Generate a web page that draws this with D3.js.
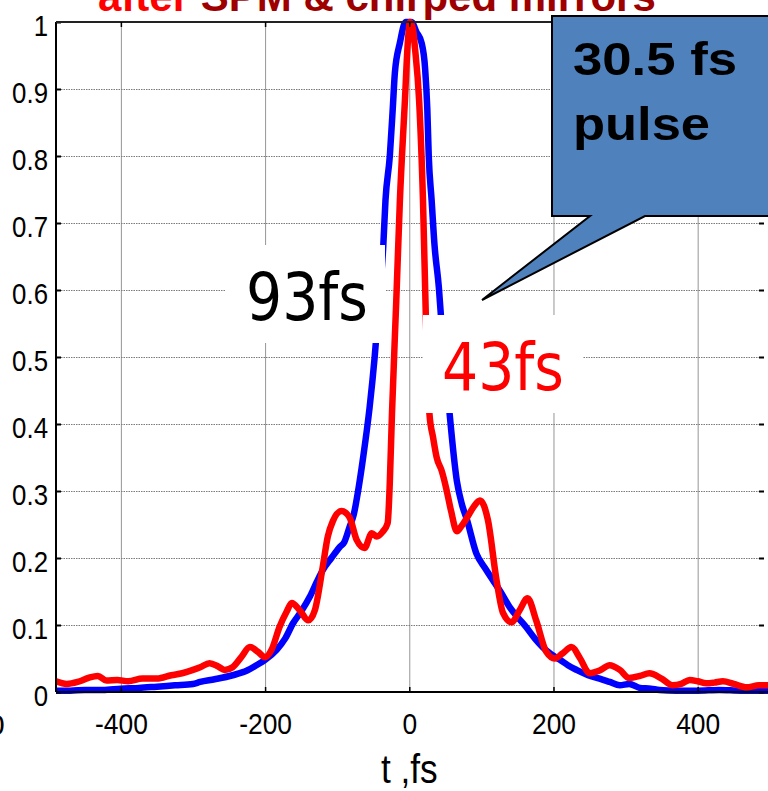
<!DOCTYPE html>
<html><head><meta charset="utf-8">
<script src="https://cdn.jsdelivr.net/npm/d3@7"></script>
<style>
html,body{margin:0;padding:0;background:#fff;}
svg{display:block;}
</style></head>
<body>
<svg id="chart" width="768" height="791"></svg>
<script>
// ---- data ----
const xTicks = [-400, -200, 0, 200, 400];
const yTicks = [0, 0.1, 0.2, 0.3, 0.4, 0.5, 0.6, 0.7, 0.8, 0.9, 1];
const yTickLabels = ["0", "0.1", "0.2", "0.3", "0.4", "0.5", "0.6", "0.7", "0.8", "0.9", "1"];
const xTickLabels = ["-400", "-200", "0", "200", "400"];

const blueT = [-490, -470, -450, -425, -400, -375, -350, -325, -300, -290, -270, -245, -225, -212, -200, -184, -172, -161, -150, -138, -128, -120, -108, -96, -90, -83, -77, -71, -64, -55, -48, -42, -36, -33, -27, -23, -20, -13, -5, 3, 10, 17, 22, 25, 27, 31, 35, 41, 44, 50, 56, 66, 73, 80, 93, 105, 116, 128, 139, 150, 162, 174, 185, 197, 209, 220, 232, 248, 264, 278, 292, 305, 320, 335, 347, 370, 400, 430, 460, 498];
const blueV = [0.002, 0.002, 0.003, 0.003, 0.005, 0.006, 0.008, 0.01, 0.012, 0.015, 0.019, 0.025, 0.032, 0.04, 0.048, 0.063, 0.08, 0.103, 0.12, 0.142, 0.165, 0.182, 0.2, 0.217, 0.224, 0.246, 0.265, 0.3, 0.35, 0.425, 0.5, 0.58, 0.667, 0.734, 0.8, 0.869, 0.924, 0.969, 1.0, 1.0, 0.985, 0.969, 0.93, 0.87, 0.8, 0.734, 0.667, 0.604, 0.56, 0.49, 0.415, 0.315, 0.28, 0.257, 0.207, 0.185, 0.167, 0.147, 0.127, 0.112, 0.097, 0.08, 0.067, 0.056, 0.048, 0.04, 0.033, 0.025, 0.02, 0.015, 0.01, 0.012, 0.006, 0.005, 0.003, 0.002, 0.002, 0.003, 0.002, 0.002];

const redT = [-490, -475, -460, -445, -432, -420, -405, -390, -370, -350, -330, -315, -300, -290, -277, -265, -256, -245, -233, -221, -210, -200, -191, -180, -170, -163, -152, -140, -131, -120, -113, -106, -94, -83, -73, -62, -52, -45, -37, -30, -27, -24, -18, -13, -6, -2, 1, 5, 8, 13.6, 19, 23, 28, 33, 38, 45, 51, 58, 66, 72, 80, 89, 98, 109, 121, 130, 142, 153, 164, 176, 190, 202, 212, 225, 237, 250, 264, 278, 292, 305, 320, 333, 350, 365, 377, 389, 400, 412, 423, 435, 450, 468, 485, 498];
const redV = [0.016, 0.012, 0.015, 0.021, 0.024, 0.017, 0.018, 0.016, 0.02, 0.02, 0.025, 0.028, 0.033, 0.037, 0.043, 0.038, 0.033, 0.037, 0.052, 0.067, 0.06, 0.052, 0.063, 0.097, 0.12, 0.133, 0.122, 0.107, 0.122, 0.187, 0.232, 0.255, 0.27, 0.261, 0.227, 0.215, 0.237, 0.232, 0.239, 0.252, 0.313, 0.415, 0.585, 0.734, 0.884, 0.97, 1.0, 0.99, 0.96, 0.884, 0.734, 0.56, 0.415, 0.38, 0.35, 0.33, 0.305, 0.27, 0.24, 0.247, 0.26, 0.276, 0.286, 0.257, 0.167, 0.118, 0.104, 0.122, 0.14, 0.107, 0.06, 0.05, 0.057, 0.067, 0.05, 0.028, 0.032, 0.04, 0.033, 0.021, 0.024, 0.028, 0.02, 0.01, 0.012, 0.018, 0.016, 0.013, 0.014, 0.016, 0.012, 0.007, 0.01, 0.01];

const titleParts = ["after", " SPM & chirped mirrors"];
const labelBlue = "93fs";
const labelRed = "43fs";
const calloutLines = ["30.5 fs", "pulse"];
const xAxisTitle = "t ,fs";

// ---- layout ----
const svg = d3.select("#chart");
const L = 56, R = 764, T = 22, B = 692;
const x = d3.scaleLinear().domain([-490, 492]).range([L, R]);
const y = d3.scaleLinear().domain([0, 1]).range([B, T]);
const sans = "'Liberation Sans', Arial, sans-serif";

// condense text horizontally (reference uses a narrow face)
function condense(sel, k) {
  sel.each(function () {
    const w = this.getComputedTextLength();
    d3.select(this).attr("textLength", w * k).attr("lengthAdjust", "spacingAndGlyphs");
  });
}

// title (cropped at top, as in the reference)
const title = svg.append("text").attr("x", 98).attr("y", 11)
  .attr("font-family", sans).attr("font-weight", "bold").attr("font-size", 42);
title.append("tspan").attr("fill", "#ff0000").text(titleParts[0]);
title.append("tspan").attr("fill", "#9e0000").text(titleParts[1]);

// grid
const gx = svg.append("g").attr("transform", `translate(0,${B})`)
  .call(d3.axisBottom(x).tickValues(xTicks).tickSize(-(B - T)).tickFormat(""));
gx.select(".domain").remove();
gx.selectAll("line").attr("stroke", "#8a8a8a").attr("stroke-width", 0.9);

const gy = svg.append("g").attr("transform", `translate(${L},0)`)
  .call(d3.axisLeft(y).tickValues(yTicks.slice(1, -1)).tickSize(-(R - L)).tickFormat(""));
gy.select(".domain").remove();
gy.selectAll("line").attr("stroke", "#7a7a7a").attr("stroke-width", 1).attr("stroke-dasharray", "1.5,1");

// curves
const line = d3.line().x(d => x(d[0])).y(d => y(d[1])).curve(d3.curveMonotoneX);
svg.append("path").datum(blueT.map((t, i) => [t, blueV[i]]))
  .attr("d", line).attr("fill", "none").attr("stroke", "#0000ff").attr("stroke-width", 6.5);
svg.append("path").datum(redT.map((t, i) => [t, redV[i]]))
  .attr("d", line).attr("fill", "none").attr("stroke", "#ff0000").attr("stroke-width", 6.5);

// label boxes
svg.append("rect").attr("x", 225).attr("y", 245).attr("width", 160).attr("height", 98).attr("fill", "#fff");
svg.append("rect").attr("x", 423).attr("y", 315).attr("width", 160).attr("height", 98).attr("fill", "#fff");
svg.append("text").attr("x", 246).attr("y", 320).attr("font-family", "'DejaVu Sans', Verdana, sans-serif")
  .attr("font-size", 66).attr("fill", "#000").attr("textLength", 122).attr("lengthAdjust", "spacingAndGlyphs").text(labelBlue);
svg.append("text").attr("x", 442).attr("y", 390).attr("font-family", "'DejaVu Sans', Verdana, sans-serif")
  .attr("font-size", 66).attr("fill", "#ff0000").attr("textLength", 122).attr("lengthAdjust", "spacingAndGlyphs").text(labelRed);

// axes
const axL = svg.append("g").attr("transform", `translate(${L},0)`)
  .call(d3.axisLeft(y).tickValues(yTicks).tickSize(-5).tickPadding(8).tickFormat((d, i) => yTickLabels[i]));
axL.select(".domain").attr("stroke", "#000").attr("stroke-width", 2).attr("d", `M0,${T}V${B}`);
axL.selectAll("line").attr("stroke", "#000").attr("stroke-width", 2);
axL.selectAll("text").attr("font-family", sans).attr("font-size", 30).attr("fill", "#000").attr("dy", "0.45em");
condense(axL.selectAll("text"), 0.86);

const axB = svg.append("g").attr("transform", `translate(0,${B})`)
  .call(d3.axisBottom(x).tickValues(xTicks).tickSize(-5).tickPadding(21).tickFormat((d, i) => xTickLabels[i]));
axB.select(".domain").attr("stroke", "#000").attr("stroke-width", 2).attr("d", `M${L},0H768`);
axB.selectAll("line").attr("stroke", "#000").attr("stroke-width", 1.5);
axB.selectAll("text").attr("font-family", sans).attr("font-size", 30).attr("fill", "#000");
condense(axB.selectAll("text"), 0.88);

const axT = svg.append("g").attr("transform", `translate(0,${T})`)
  .call(d3.axisTop(x).tickValues(xTicks).tickSize(-5).tickFormat(""));
axT.select(".domain").attr("stroke", "#222").attr("stroke-width", 2).attr("d", `M${L},0H560`);
axT.selectAll("line").attr("stroke", "#000").attr("stroke-width", 1.5);

const axR = svg.append("g").attr("transform", `translate(${R},0)`)
  .call(d3.axisRight(y).tickValues(yTicks).tickSize(-5).tickFormat(""));
axR.select(".domain").remove();
axR.selectAll("line").attr("stroke", "#000").attr("stroke-width", 2);

// x-axis title
const xt = svg.append("text").attr("x", x(0)).attr("y", 783).attr("text-anchor", "middle")
  .attr("font-family", sans).attr("font-size", 40).attr("fill", "#000").text(xAxisTitle);
condense(xt, 0.88);

// cropped fragment at left edge (label of a neighbouring chart)
svg.append("text").attr("x", -12).attr("y", 735).attr("font-family", sans)
  .attr("font-size", 30).attr("fill", "#000").text("0");

// callout
svg.append("path").attr("d", "M552,16H790V216H645L482,300L590,216H552Z")
  .attr("fill", "#4f81bd").attr("stroke", "#000").attr("stroke-width", 2).attr("stroke-linejoin", "miter");
svg.append("text").attr("x", 573).attr("y", 75).attr("font-family", sans)
  .attr("font-weight", "bold").attr("font-size", 46).attr("fill", "#000")
  .attr("textLength", 164).attr("lengthAdjust", "spacingAndGlyphs").text(calloutLines[0]);
svg.append("text").attr("x", 573).attr("y", 140).attr("font-family", sans)
  .attr("font-weight", "bold").attr("font-size", 46).attr("fill", "#000")
  .attr("textLength", 137).attr("lengthAdjust", "spacingAndGlyphs").text(calloutLines[1]);
</script>
</body></html>
